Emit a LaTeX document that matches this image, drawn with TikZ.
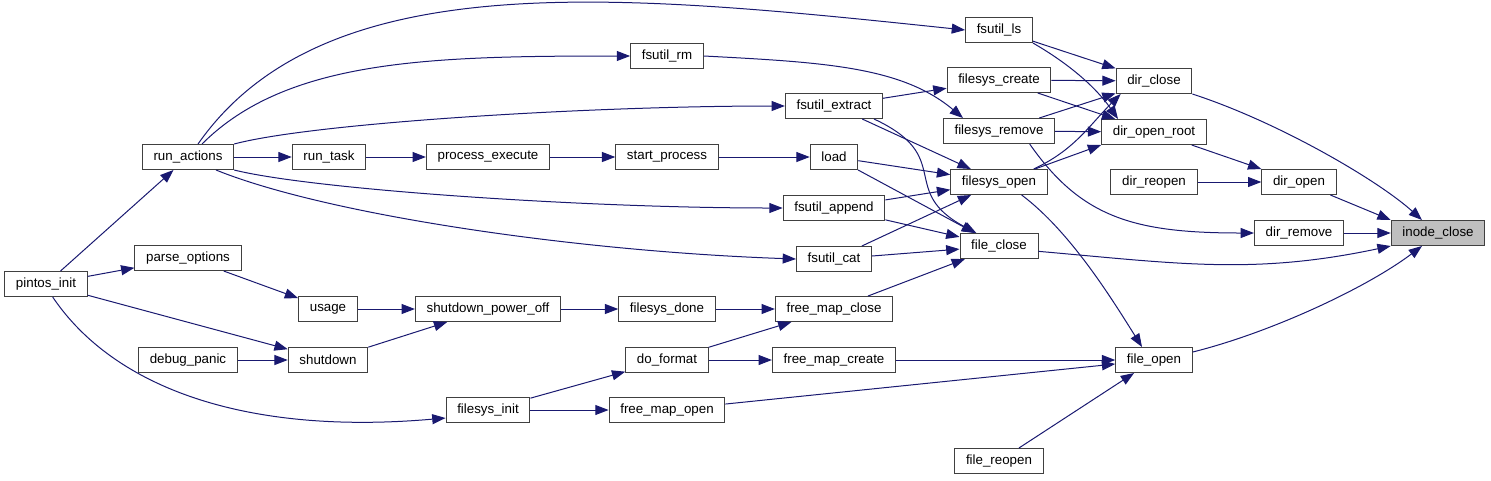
\documentclass[tikz,border=0pt]{standalone}
\usepackage{fontspec}
\setmainfont{Liberation Sans}
\definecolor{edgeblue}{RGB}{25, 25, 112}
\definecolor{boxgray}{RGB}{64, 64, 64}
\definecolor{hilite}{RGB}{191, 191, 191}
\usetikzlibrary{arrows.meta}

\begin{document}
\begin{tikzpicture}[
    x=0.75pt, y=0.75pt,
    box/.style={rectangle, draw=boxgray, line width=0.75pt, fill=white,
                minimum height=18.75pt, inner xsep=8.4pt,
                font=\fontsize{10pt}{12pt}\selectfont, text=black},
    arrow/.style={-{Triangle[length=10pt,width=7.5pt]}, line width=0.75pt, color=edgeblue}
  ]
    \useasboundingbox (0,0) rectangle (1491,-480);

    % Column 1-2
    \node[box] (pintos) at (46,-284) {pintos\_init};
    \node[box] (runact) at (188,-157) {run\_actions};
    \node[box] (parseopt) at (188,-258) {parse\_options};
    \node[box] (dpanic) at (188,-360) {debug\_panic};
    % Column 3-4
    \node[box] (runtask) at (329,-157) {run\_task};
    \node[box] (usage) at (328,-309) {usage};
    \node[box] (shutdown) at (328,-360) {shutdown};
    \node[box] (procexec) at (488,-157) {process\_execute};
    \node[box] (spoff) at (488,-309) {shutdown\_power\_off};
    \node[box] (fsinit) at (488,-410) {filesys\_init};
    % Column 5
    \node[box] (fsrm) at (667,-56) {fsutil\_rm};
    \node[box] (startproc) at (667,-157) {start\_process};
    \node[box] (fsdone) at (667,-309) {filesys\_done};
    \node[box] (doformat) at (667,-360) {do\_format};
    \node[box] (fmopen) at (667,-410) {free\_map\_open};
    % Column 6
    \node[box] (fsextract) at (834,-106) {fsutil\_extract};
    \node[box] (load) at (834,-157) {load};
    \node[box] (fsappend) at (834,-208) {fsutil\_append};
    \node[box] (fscat) at (834,-259) {fsutil\_cat};
    \node[box] (fmclose) at (834,-309) {free\_map\_close};
    \node[box] (fmcreate) at (834,-360) {free\_map\_create};
    % Column 7
    \node[box] (fsls) at (999,-30) {fsutil\_ls};
    \node[box] (fscreate) at (999,-80) {filesys\_create};
    \node[box] (fsremove) at (999,-131) {filesys\_remove};
    \node[box] (fsopen) at (999,-182) {filesys\_open};
    \node[box] (fclose) at (999,-246) {file\_close};
    \node[box] (freopen) at (999,-461) {file\_reopen};
    % Column 8
    \node[box] (dclose) at (1154,-81) {dir\_close};
    \node[box] (dopenroot) at (1154,-132) {dir\_open\_root};
    \node[box] (dreopen) at (1154,-182) {dir\_reopen};
    \node[box] (fopen) at (1154,-360) {file\_open};
    % Column 9-10
    \node[box] (dopen) at (1299,-182) {dir\_open};
    \node[box] (dremove) at (1299,-233) {dir\_remove};
    \node[box, fill=hilite] (inode) at (1438,-233) {inode\_close};

    % Arrows from pintos_init
    \draw[arrow] (pintos) -- (runact);
    \draw[arrow] (pintos) -- (parseopt);
    \draw[arrow] (pintos) -- (shutdown);
    \draw[arrow] ([xshift=5pt]pintos.south) .. controls +(-56:110) and +(185:200) .. ([yshift=-6pt]fsinit.west);

    % Arrows from run_actions
    \draw[arrow] (runact) -- (runtask);
    \draw[arrow] ([xshift=7.5pt]runact.north) .. controls +(55:220) and +(174:350) .. (fsls.west);
    \draw[arrow] ([xshift=10.5pt]runact.north) .. controls +(45:120) and +(180:200) .. (fsrm.west);
    \draw[arrow] (runact.north east) .. controls +(15:80) and +(180:200) .. (fsextract.west);
    \draw[arrow] (runact.south east) .. controls +(-14:80) and +(180:200) .. (fsappend.west);
    \draw[arrow] ([xshift=21pt]runact.south) .. controls +(-22:120) and +(178:220) .. (fscat.west);

    % Process chain
    \draw[arrow] (runtask) -- (procexec);
    \draw[arrow] (procexec) -- (startproc);
    \draw[arrow] (startproc) -- (load);
    \draw[arrow] (load) -- (fsopen);
    \draw[arrow] (load) -- (fclose);

    % fsutil callers
    \draw[arrow] (fsls) -- (dclose);
    \draw[arrow] (fsls.south east) .. controls +(-30:40) and +(125:40) .. ([xshift=-27pt]dopenroot.north);
    \draw[arrow] (fsrm.east) .. controls +(-3:120) and +(140:80) .. ([xshift=-27pt]fsremove.north);
    \draw[arrow] (fsextract) -- (fscreate);
    \draw[arrow] (fsextract) -- (fsopen);
    \draw[arrow] ([xshift=30pt]fsextract.south) .. controls +(-25:90) and +(152:90) .. ([xshift=-17pt]fclose.north);
    \draw[arrow] (fsappend) -- (fsopen);
    \draw[arrow] (fsappend) -- (fclose);
    \draw[arrow] (fscat) -- (fsopen);
    \draw[arrow] (fscat) -- (fclose);

    % filesys layer
    \draw[arrow] (fscreate) -- (dclose);
    \draw[arrow] (fscreate) -- (dopenroot);
    \draw[arrow] (fsremove) -- (dclose);
    \draw[arrow] (fsremove) -- (dopenroot);
    \draw[arrow] ([xshift=23pt]fsremove.south) .. controls +(-55:90) and +(180:120) .. (dremove.west);
    \draw[arrow] ([xshift=26pt]fsopen.north) .. controls +(25:45) and +(-135:45) .. ([xshift=-25pt]dclose.south);
    \draw[arrow] (fsopen) -- (dopenroot.south west);
    \draw[arrow] ([xshift=17pt]fsopen.south) .. controls +(-37:60) and +(122:60) .. ([xshift=-9pt]fopen.north);

    % dir layer
    \draw[arrow] (dopenroot) -- (dopen);
    \draw[arrow] (dreopen) -- (dopen);
    \draw[arrow] (dclose.south east) .. controls +(-18:90) and +(138:60) .. ([xshift=-12pt]inode.north);
    \draw[arrow] (dopen) -- (inode.north west);
    \draw[arrow] (dremove) -- (inode);
    \draw[arrow] ([yshift=-4pt]fclose.east) .. controls +(-5:140) and +(192:140) .. (inode.south west);
    \draw[arrow] ([yshift=6pt]fopen.east) .. controls +(14:80) and +(-143:70) .. ([xshift=-12pt]inode.south);

    % shutdown path
    \draw[arrow] (parseopt) -- (usage);
    \draw[arrow] (usage) -- (spoff);
    \draw[arrow] (shutdown) -- (spoff);
    \draw[arrow] (dpanic) -- (shutdown);
    \draw[arrow] (spoff) -- (fsdone);
    \draw[arrow] (fsdone) -- (fmclose);
    \draw[arrow] (fmclose) -- (fclose);

    % free map
    \draw[arrow] (fsinit) -- (doformat);
    \draw[arrow] (fsinit) -- (fmopen);
    \draw[arrow] (doformat) -- (fmclose);
    \draw[arrow] (doformat) -- (fmcreate);
    \draw[arrow] (fmcreate) -- (fopen);
    \draw[arrow] (fmopen) -- (fopen);
    \draw[arrow] (freopen) -- (fopen);
  \end{tikzpicture}
\end{document}
